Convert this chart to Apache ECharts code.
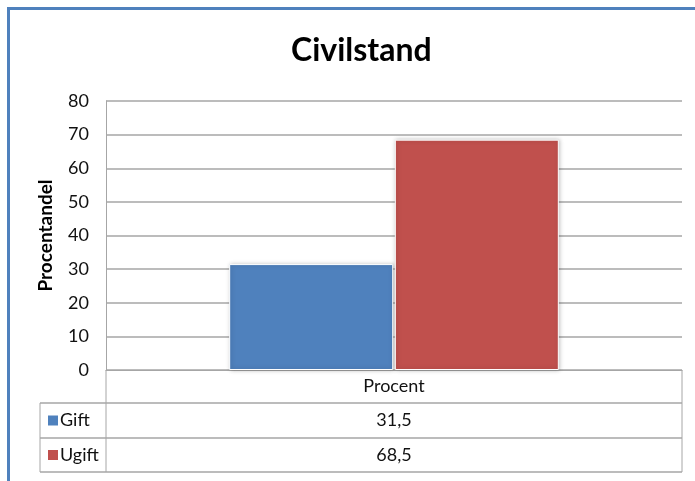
<!DOCTYPE html>
<html>
<head>
<meta charset="utf-8">
<script src="https://cdn.jsdelivr.net/npm/echarts@6/dist/echarts.min.js"></script>
<style>
  html, body { margin: 0; padding: 0; background: #fff; }
  #civilChart { width: 695px; height: 481px; }
</style>
</head>
<body>
<div id="civilChart"></div>
<script>
// data
var categories = ['Procent'];
var seriesNames = ['Gift', 'Ugift'];
var giftValues = [31.5];
var ugiftValues = [68.5];
var seriesColors = ['#4F81BD', '#C0504D'];
var yTicks = [0, 10, 20, 30, 40, 50, 60, 70, 80];

var chart = echarts.init(document.getElementById('civilChart'));

// plot area / table layout
var gLeft = 106, gRight = 682, gTop = 101, gBottom = 370;
var rowH = [370, 403, 438, 472];   // header row, Gift row, Ugift row
var legendColLeft = 40;
var lineColor = '#a6a6a6';
var txtFont = 'Lato, "Open Sans", sans-serif';
var txtColor = '#111';

function fmt(v) {
  return String(v).replace('.', ',');
}

var seriesValues = [giftValues, ugiftValues];
var graphics = [];

// outer blue frame
graphics.push({
  type: 'rect',
  shape: { x: 8.5, y: 8.5, width: 700, height: 490 },
  style: { fill: 'none', stroke: '#4F81BD', lineWidth: 3 },
  silent: true
});

// data table lines
graphics.push({
  type: 'line',
  shape: { x1: gLeft, y1: rowH[0], x2: gLeft, y2: rowH[3] },
  style: { stroke: lineColor, lineWidth: 1 }
});
graphics.push({
  type: 'line',
  shape: { x1: gRight, y1: rowH[0], x2: gRight, y2: rowH[3] },
  style: { stroke: lineColor, lineWidth: 1 }
});
graphics.push({
  type: 'line',
  shape: { x1: legendColLeft, y1: rowH[1], x2: legendColLeft, y2: rowH[3] },
  style: { stroke: lineColor, lineWidth: 1 }
});
for (var r = 1; r < rowH.length; r++) {
  graphics.push({
    type: 'line',
    shape: { x1: legendColLeft, y1: rowH[r], x2: gRight, y2: rowH[r] },
    style: { stroke: lineColor, lineWidth: 1.5 }
  });
}

// header text
graphics.push({
  type: 'text',
  x: (gLeft + gRight) / 2, y: (rowH[0] + rowH[1]) / 2,
  style: { text: categories[0], font: '18px ' + txtFont, fill: txtColor, align: 'center', verticalAlign: 'middle' }
});

// series rows
seriesNames.forEach(function (name, i) {
  var cy = (rowH[i + 1] + rowH[i + 2]) / 2;
  graphics.push({
    type: 'rect',
    shape: { x: 48, y: cy - 5, width: 10, height: 10 },
    style: { fill: seriesColors[i] }
  });
  graphics.push({
    type: 'text',
    x: 60, y: cy,
    style: { text: name, font: '18px ' + txtFont, fill: txtColor, align: 'left', verticalAlign: 'middle' }
  });
  graphics.push({
    type: 'text',
    x: (gLeft + gRight) / 2, y: cy,
    style: { text: fmt(seriesValues[i][0]), font: '18px ' + txtFont, fill: txtColor, align: 'center', verticalAlign: 'middle' }
  });
});

var option = {
  backgroundColor: '#fff',
  animation: false,
  title: {
    text: 'Civilstand',
    left: 286,
    top: 30,
    textStyle: {
      fontFamily: txtFont,
      fontSize: 32,
      fontWeight: 'bold',
      color: '#000'
    }
  },
  legend: { show: false },
  grid: {
    left: gLeft,
    right: 695 - gRight,
    top: gTop,
    bottom: 481 - gBottom
  },
  xAxis: {
    type: 'category',
    data: categories,
    axisTick: { show: false },
    axisLabel: { show: false },
    axisLine: { lineStyle: { color: lineColor, width: 1 } }
  },
  yAxis: {
    type: 'value',
    min: yTicks[0],
    max: yTicks[yTicks.length - 1],
    interval: 10,
    name: 'Procentandel',
    nameLocation: 'middle',
    nameGap: 51,
    nameTextStyle: {
      fontFamily: txtFont,
      fontSize: 19,
      fontWeight: 'bold',
      color: '#000'
    },
    axisLine: { show: true, lineStyle: { color: lineColor } },
    axisTick: { show: false },
    axisLabel: {
      fontFamily: txtFont,
      fontSize: 18,
      color: txtColor,
      margin: 17
    },
    splitLine: { lineStyle: { color: lineColor, width: 1.5 } }
  },
  series: seriesNames.map(function (name, i) {
    return {
      name: name,
      type: 'bar',
      data: seriesValues[i],
      barWidth: 164,
      barGap: '1%',
      itemStyle: {
        color: seriesColors[i],
        borderColor: '#fff',
        borderWidth: 1,
        shadowBlur: 4,
        shadowColor: 'rgba(0,0,0,0.25)',
        shadowOffsetX: 1,
        shadowOffsetY: 0
      }
    };
  }),
  graphic: graphics
};

chart.setOption(option);
</script>
</body>
</html>
